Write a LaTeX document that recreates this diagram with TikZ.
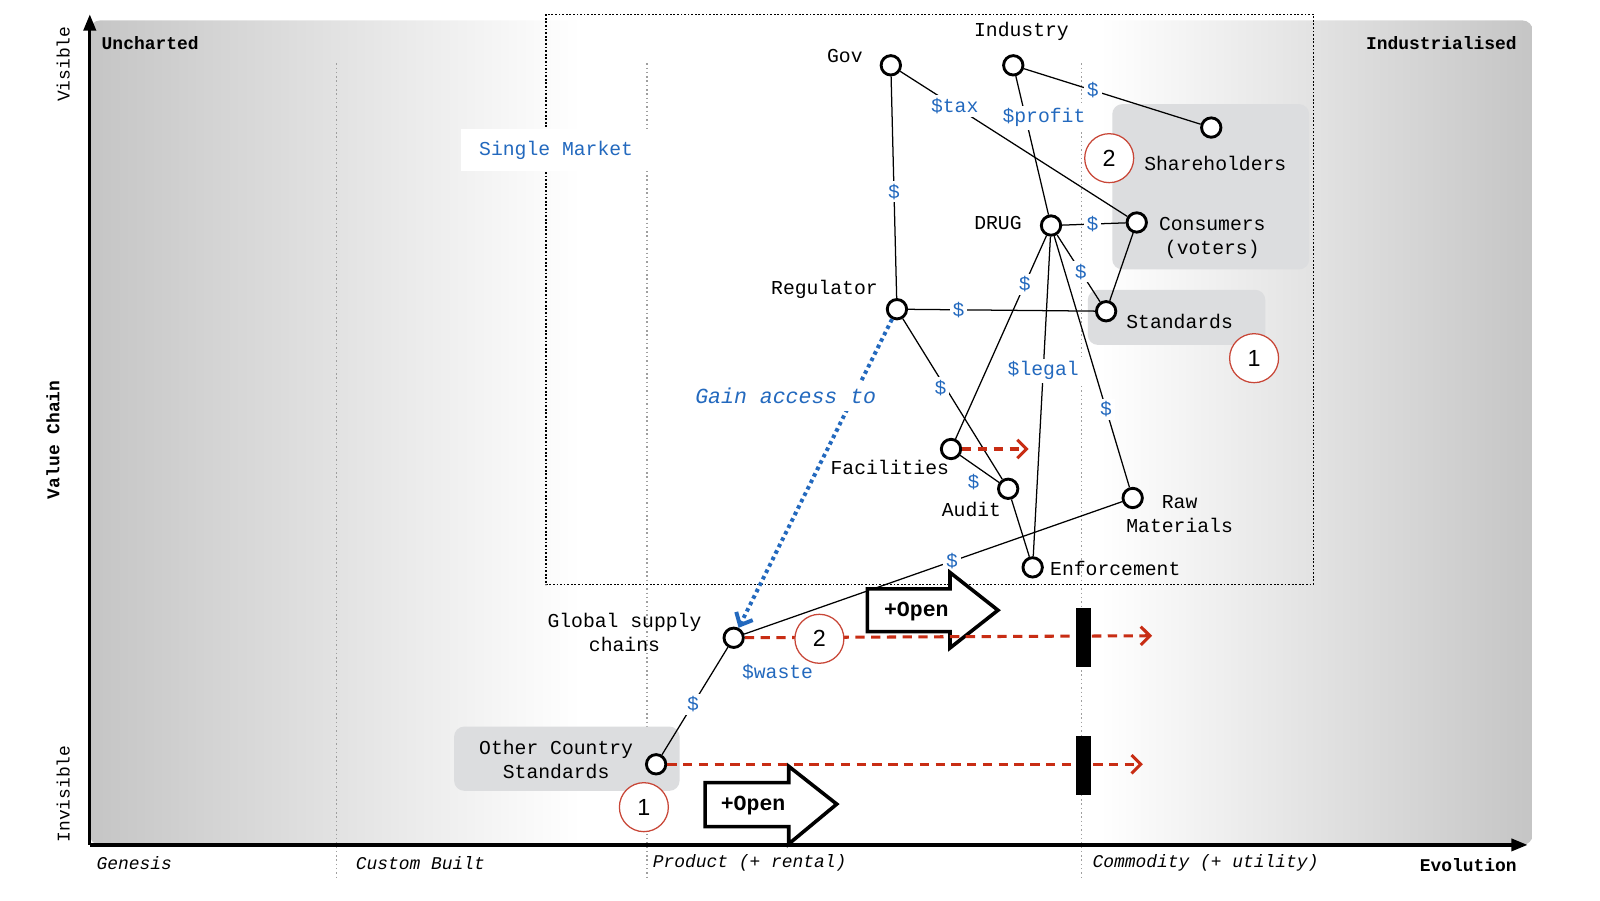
\documentclass[tikz,border=0pt]{standalone}
\usepackage{fontspec}
\usepackage{tikz}
\usetikzlibrary{arrows.meta}
\newfontfamily\mapmono{Liberation Mono}
\newfontfamily\mapsans{Liberation Sans}
\newcommand\mapfont{\mapmono\fontsize{5.5}{6.8}\selectfont}
\newcommand\axisfont{\mapmono\fontsize{5}{6}\selectfont}
\newcommand\gainfont{\mapmono\itshape\fontsize{6}{7}\selectfont}
\newcommand\openfont{\mapmono\bfseries\fontsize{6}{7}\selectfont}
\newcommand\callfont{\mapsans\fontsize{6.5}{7}\selectfont}
\definecolor{dollarblue}{RGB}{35,105,190}
\definecolor{evored}{RGB}{200,45,20}
\definecolor{callred}{RGB}{200,70,55}
\definecolor{zonegray}{RGB}{220,221,223}
\definecolor{edgegray}{RGB}{197,197,197}
\pgfdeclarehorizontalshading{evoshade}{100bp}{color(0bp)=(edgegray); color(25bp)=(edgegray); color(42bp)=(white); color(60bp)=(white); color(75bp)=(edgegray); color(100bp)=(edgegray)}
\tikzset{
  comp/.style={circle,draw=black,line width=0.8pt,fill=white,minimum size=0.19cm,inner sep=0pt},
  conn/.style={line width=0.35pt},
  lbl/.style={text=dollarblue,fill=white,inner sep=0.8pt,font=\mapfont},
  txt/.style={font=\mapfont,align=center,inner sep=0pt},
  callout/.style={circle,draw=callred,line width=0.35pt,fill=white,minimum size=0.48cm,inner sep=0pt,font=\callfont},
  evo/.style={evored,line width=0.85pt,dash pattern=on 2.6pt off 1.8pt,-{Straight Barb[length=0.09cm,width=0.18cm]}},
  access/.style={dollarblue,line width=1.1pt,dash pattern=on 1pt off 1pt,-{Straight Barb[length=0.1cm,width=0.18cm]}},
  openarrow/.style={draw=black,fill=white,line width=1pt,line join=miter},
  stage/.style={draw=gray!75,line width=0.4pt,dash pattern=on 0.4pt off 0.8pt},
  axis/.style={line width=0.9pt,-{Triangle[length=0.16cm,width=0.12cm]}},
  axistxt/.style={font=\axisfont,inner sep=0pt}
}
\begin{document}
\begin{tikzpicture}
\useasboundingbox (0,0) rectangle (15.68,-8.82);
\shade[shading=evoshade,rounded corners=0.1cm] (0.88,-0.20) rectangle (15.02,-8.28); % evolution background
\foreach \x in {3.30,6.34,10.60}
  \draw[stage] (\x,-0.62) to (\x,-8.62); % stage lines

% zones
\fill[zonegray,rounded corners=0.1cm] (10.90,-1.02) rectangle (12.83,-2.64);
\fill[zonegray,rounded corners=0.1cm] (10.66,-2.84) rectangle (12.40,-3.38);
\fill[zonegray,rounded corners=0.1cm] (4.45,-7.12) rectangle (6.66,-7.75);
\draw[line width=0.4pt,dash pattern=on 0.5pt off 0.5pt] (5.35,-0.14) rectangle (12.87,-5.73); % single market
\node[fill=white,minimum width=1.87cm,minimum height=0.37cm,text=dollarblue,font=\mapfont] (market) at (5.45,-1.47) {Single Market};

% axes
\draw[axis] (0.88,-8.28) to (0.88,-0.14);
\draw[axis] (0.88,-8.28) to (14.97,-8.28);
\node[axistxt,rotate=90] (visible) at (0.62,-0.63) {Visible};
\node[axistxt,rotate=90,font=\axisfont\bfseries] (chain) at (0.52,-4.31) {Value Chain};
\node[axistxt,rotate=90] (invisible) at (0.62,-7.78) {Invisible};
\node[axistxt,anchor=west,font=\axisfont\bfseries] (uncharted) at (0.99,-0.42) {Uncharted};
\node[axistxt,anchor=east,font=\axisfont\bfseries] (industrialised) at (14.87,-0.42) {Industrialised};
\node[axistxt,anchor=west,font=\axisfont\itshape] (genesis) at (0.94,-8.46) {Genesis};
\node[axistxt,anchor=west,font=\axisfont\itshape] (custom) at (3.48,-8.46) {Custom Built};
\node[axistxt,anchor=west,font=\axisfont\itshape] (product) at (6.39,-8.46) {Product (+ rental)};
\node[axistxt,anchor=west,font=\axisfont\itshape] (commodity) at (10.70,-8.46) {Commodity (+ utility)};
\node[axistxt,anchor=east,font=\axisfont\bfseries] (evolution) at (14.87,-8.48) {Evolution};

% components
\node[comp] (gov) at (8.73,-0.64) {};
\node[comp] (industry) at (9.93,-0.64) {};
\node[comp] (share) at (11.87,-1.25) {};
\node[comp] (consumers) at (11.14,-2.18) {};
\node[comp] (drug) at (10.30,-2.21) {};
\node[comp] (regulator) at (8.79,-3.03) {};
\node[comp] (standards) at (10.84,-3.05) {};
\node[comp] (facilities) at (9.32,-4.40) {};
\node[comp] (audit) at (9.88,-4.79) {};
\node[comp] (raw) at (11.10,-4.88) {};
\node[comp] (enforce) at (10.12,-5.56) {};
\node[comp] (supply) at (7.19,-6.25) {};
\node[comp] (other) at (6.43,-7.49) {};

% links
\draw[conn] (gov) to node[lbl,pos=0.52]{\$} (regulator);
\draw[conn] (gov) to node[lbl,pos=0.24]{\$tax} (consumers);
\draw[conn] (industry) to node[lbl,pos=0.39]{\$} (share);
\draw[conn] (industry) to node[lbl,pos=0.30,xshift=0.18cm]{\$profit} (drug);
\draw[conn] (drug) to node[lbl,pos=0.48]{\$} (consumers);
\draw[conn] (drug) to node[lbl,pos=0.55]{\$} (standards);
\draw[conn] (consumers) to (standards);
\draw[conn] (regulator) to node[lbl,pos=0.27]{\$} (standards);
\draw[conn] (regulator) to node[lbl,pos=0.43,xshift=-0.05cm]{\$} (audit);
\draw[conn] (drug) to node[lbl,pos=0.24]{\$} (facilities);
\draw[conn] (drug) to node[lbl,pos=0.42]{\$legal} (enforce);
\draw[conn] (drug) to node[lbl,pos=0.69]{\$} (raw);
\draw[conn] (facilities) to node[lbl,pos=0.45,anchor=north,xshift=-0.04cm,yshift=-0.03cm]{\$} (audit);
\draw[conn] (audit) to (enforce);
\draw[conn] (raw) to node[lbl,pos=0.45]{\$} (supply);
\draw[conn] (supply) to node[lbl,pos=0.53]{\$} (other);

% gain access
\draw[access] (regulator) to (supply);
\node[font=\gainfont,text=dollarblue,fill=white,inner sep=2pt] (gain) at (7.70,-3.88) {Gain access to};
\node[font=\mapfont,text=dollarblue] (waste) at (7.62,-6.59) {\$waste};

% +Open
\draw[openarrow] (8.50,-5.77) -- (9.31,-5.77) -- (9.31,-5.61) -- (9.78,-5.98) -- (9.31,-6.35) -- (9.31,-6.19) -- (8.50,-6.19) -- cycle;
\node[font=\openfont] (open1) at (8.98,-5.99) {+Open};
\draw[openarrow] (6.91,-7.67) -- (7.73,-7.67) -- (7.73,-7.51) -- (8.20,-7.88) -- (7.73,-8.27) -- (7.73,-8.10) -- (6.91,-8.10) -- cycle;
\node[font=\openfont] (open2) at (7.38,-7.89) {+Open};

% evolution
\coordinate (facilities-e) at (10.08,-4.40);
\coordinate (supply-e) at (11.29,-6.23);
\coordinate (other-e) at (11.20,-7.49);
\draw[evo] (facilities) to (facilities-e);
\draw[evo] (supply) to (supply-e);
\draw[evo] (other) to (other-e);
\fill (10.54,-5.96) rectangle (10.69,-6.54); % inertia
\fill (10.54,-7.21) rectangle (10.69,-7.79); % inertia

% callouts
\node[callout] (c2a) at (10.87,-1.55) {2};
\node[callout] (c1a) at (12.29,-3.51) {1};
\node[callout] (c2b) at (8.03,-6.26) {2};
\node[callout] (c1b) at (6.31,-7.91) {1};

% labels
\node[txt] (gov-t) at (8.28,-0.55) {Gov};
\node[txt] (industry-t) at (10.01,-0.31) {Industry};
\node[txt] (share-t) at (11.91,-1.60) {Shareholders};
\node[txt] (consumers-t) at (11.88,-2.33) {Consumers\\(voters)};
\node[txt] (drug-t) at (9.78,-2.19) {DRUG};
\node[txt] (regulator-t) at (8.08,-2.84) {Regulator};
\node[txt] (standards-t) at (11.56,-3.15) {Standards};
\node[txt] (facilities-t) at (8.72,-4.58) {Facilities};
\node[txt] (audit-t) at (9.52,-4.99) {Audit};
\node[txt] (raw-t) at (11.56,-5.04) {Raw\\Materials};
\node[txt] (enforce-t) at (10.93,-5.57) {Enforcement};
\node[txt] (supply-t) at (6.12,-6.20) {Global supply\\chains};
\node[txt] (other-t) at (5.45,-7.44) {Other Country\\Standards};
\end{tikzpicture}
\end{document}
